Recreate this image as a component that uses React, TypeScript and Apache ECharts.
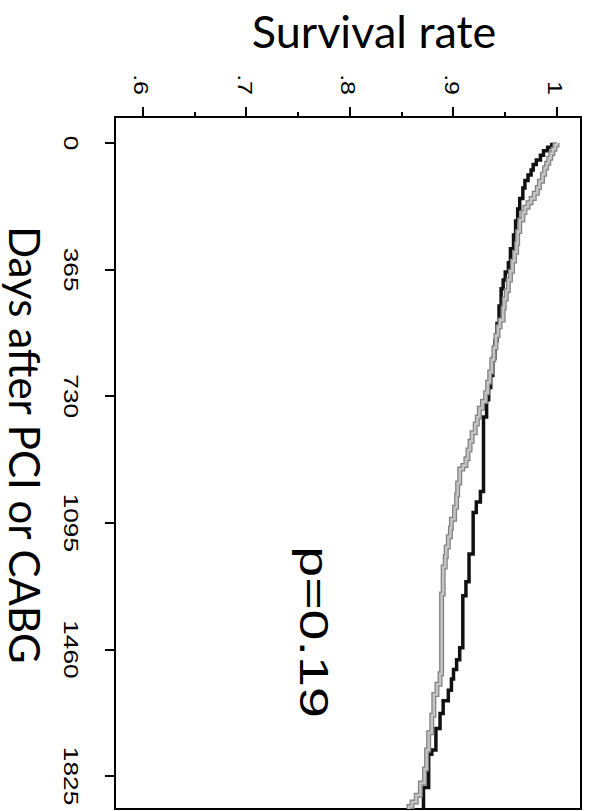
import React, { useEffect, useRef } from "react";
import * as echarts from "echarts";

// Axis ranges
const DAY_MIN = -75;
const DAY_MAX = 1920;
const RATE_MIN = 0.5729;
const RATE_MAX = 1.0232;

// Follow-up axis (days) and survival axis ticks
const DAY_TICKS = [0, 365, 730, 1095, 1460, 1825];
const RATE_TICKS = [0.6, 0.7, 0.8, 0.9, 1];
const RATE_TICK_LABELS = [".6", ".7", ".8", ".9", "1"];
const RATE_MINOR_TICKS = [0.65, 0.75, 0.85, 0.95];

// Kaplan-Meier steps: [day, survival after the event]
const SURVIVAL_DARK: [number, number][] = [
  [0, 1.0], [4, 0.995], [12, 0.991], [22, 0.987], [35, 0.984], [49, 0.98],
  [62, 0.977], [78, 0.975], [92, 0.972], [108, 0.969], [130, 0.967],
  [160, 0.964], [190, 0.962], [225, 0.96], [265, 0.958], [305, 0.955],
  [345, 0.953], [372, 0.95], [395, 0.948], [420, 0.946], [470, 0.944],
  [520, 0.942], [570, 0.94], [620, 0.938], [670, 0.936], [705, 0.934],
  [740, 0.932], [790, 0.929], [1005, 0.926], [1035, 0.922], [1065, 0.919],
  [1185, 0.915], [1265, 0.912], [1305, 0.909], [1455, 0.906], [1490, 0.903],
  [1518, 0.9], [1545, 0.898], [1578, 0.895], [1608, 0.89], [1645, 0.887],
  [1688, 0.883], [1750, 0.879], [1762, 0.876], [1858, 0.871], [1920, 0.871],
];

const SURVIVAL_LIGHT: [number, number][] = [
  [0, 1.0], [6, 0.998], [18, 0.996], [30, 0.994], [44, 0.992], [58, 0.99],
  [72, 0.988], [90, 0.986], [110, 0.983], [128, 0.981], [145, 0.978],
  [160, 0.975], [172, 0.972], [185, 0.969], [200, 0.967], [222, 0.964],
  [255, 0.962], [290, 0.961], [315, 0.959], [340, 0.957], [370, 0.955],
  [395, 0.953], [425, 0.951], [450, 0.949], [475, 0.948], [510, 0.945],
  [530, 0.943], [555, 0.941], [590, 0.939], [625, 0.937], [660, 0.935],
  [690, 0.933], [720, 0.931], [745, 0.928], [765, 0.925], [790, 0.923],
  [810, 0.921], [835, 0.918], [860, 0.916], [885, 0.914], [910, 0.912],
  [930, 0.909], [940, 0.906], [980, 0.904], [1015, 0.903], [1050, 0.901],
  [1085, 0.898], [1110, 0.897], [1135, 0.895], [1165, 0.893], [1192, 0.892],
  [1222, 0.89], [1300, 0.8885], [1530, 0.887], [1560, 0.884], [1590, 0.881],
  [1650, 0.879], [1700, 0.876], [1750, 0.874], [1805, 0.872], [1845, 0.868],
  [1880, 0.864], [1900, 0.86], [1913, 0.857], [1920, 0.857],
];

const P_VALUE_TEXT = "p=0.19";

const TICK_FONT = "Liberation Sans";
const TICK_STRETCH = 1.25;

export default function App() {
  const ref = useRef<HTMLDivElement>(null);

  useEffect(() => {
    if (!ref.current) return;
    const chart = echarts.init(ref.current, null, { renderer: "svg" });

    const stepLine = (data: [number, number][], color: string, width: number, z: number) => ({
      type: "line",
      data,
      step: "end",
      symbol: "none",
      showSymbol: false,
      silent: true,
      z,
      lineStyle: { color, width, cap: "butt", join: "miter" },
    });

    // Day tick labels: placed below the bottom edge through the axis scale
    const dayLabels = {
      type: "custom",
      data: DAY_TICKS.map((d) => [d, RATE_MIN]),
      silent: true,
      clip: false,
      z: 10,
      renderItem: (params: any, api: any) => {
        const p = api.coord([api.value(0), api.value(1)]);
        return {
          type: "text",
          x: p[0],
          y: p[1] + 33,
          scaleX: TICK_STRETCH,
          style: {
            text: String(api.value(0)),
            fontFamily: TICK_FONT,
            fontSize: 21,
            fill: "#000",
            align: "center",
            verticalAlign: "top",
          },
        };
      },
    };

    // Survival tick labels: placed left of the left edge through the axis scale
    const rateLabels = {
      type: "custom",
      data: RATE_TICKS.map((v) => [DAY_MIN, v]),
      silent: true,
      clip: false,
      z: 10,
      renderItem: (params: any, api: any) => {
        const p = api.coord([api.value(0), api.value(1)]);
        return {
          type: "text",
          x: p[0] - 22,
          y: p[1] + 2,
          scaleX: TICK_STRETCH,
          style: {
            text: RATE_TICK_LABELS[params.dataIndex],
            fontFamily: TICK_FONT,
            fontSize: 20,
            fill: "#000",
            align: "right",
            verticalAlign: "middle",
          },
        };
      },
    };

    chart.setOption({
      animation: false,
      backgroundColor: "#fff",
      grid: {
        left: 117,
        right: 2,
        top: 10,
        bottom: 115,
        show: true,
        borderColor: "#000",
        borderWidth: 2,
        containLabel: false,
        outerBoundsMode: "none",
      },
      xAxis: {
        type: "value",
        min: DAY_MIN,
        max: DAY_MAX,
        name: "Days after PCI or CABG",
        nameLocation: "middle",
        nameGap: 69,
        nameTextStyle: {
          fontFamily: "Lato",
          fontSize: 42,
          color: "#000",
          padding: [0, 36, 0, 0],
        },
        axisLine: { onZero: false, lineStyle: { color: "#000", width: 2 } },
        axisTick: {
          customValues: DAY_TICKS,
          length: 10,
          lineStyle: { color: "#000", width: 2 },
        },
        axisLabel: { show: false },
        splitLine: { show: false },
      },
      yAxis: [
        {
          type: "value",
          min: RATE_MIN,
          max: RATE_MAX,
          name: "Survival rate",
          nameLocation: "middle",
          nameRotate: 90,
          nameGap: 64,
          nameTextStyle: {
            fontFamily: "Lato",
            fontSize: 45,
            color: "#000",
            padding: [0, 0, 0, 52],
          },
          axisLine: { onZero: false, lineStyle: { color: "#000", width: 1.5 } },
          axisTick: {
            customValues: RATE_TICKS,
            length: 10,
            lineStyle: { color: "#000", width: 2 },
          },
          axisLabel: { show: false },
          splitLine: { show: false },
        },
        {
          type: "value",
          min: RATE_MIN,
          max: RATE_MAX,
          position: "left",
          offset: 0,
          axisLine: { show: true, onZero: false, lineStyle: { width: 0, opacity: 0 } },
          axisTick: {
            customValues: RATE_MINOR_TICKS,
            length: 5,
            lineStyle: { color: "#000", width: 2 },
          },
          axisLabel: { show: false },
          splitLine: { show: false },
        },
      ],
      graphic: [
        {
          type: "text",
          x: 632,
          y: 277,
          scaleX: 1.39,
          style: {
            text: P_VALUE_TEXT,
            fontFamily: "Liberation Sans",
            fontSize: 40,
            fill: "#000",
            align: "center",
            verticalAlign: "middle",
            textAlign: "center",
            textVerticalAlign: "middle",
          },
        },
      ],
      series: [
        stepLine(SURVIVAL_DARK, "#111", 3.5, 3),
        stepLine(SURVIVAL_LIGHT, "#808080", 5, 4),
        stepLine(SURVIVAL_LIGHT, "#c4c4c4", 2.5, 5),
        dayLabels,
        rateLabels,
      ],
    });

    return () => chart.dispose();
  }, []);

  return (
    <div
      style={{
        position: "fixed",
        left: 0,
        top: 0,
        width: 591,
        height: 811,
        overflow: "hidden",
        background: "#fff",
      }}
    >
      <div
        ref={ref}
        style={{
          width: 811,
          height: 591,
          transform: "translate(591px, 0) rotate(90deg)",
          transformOrigin: "0 0",
        }}
      />
    </div>
  );
}
